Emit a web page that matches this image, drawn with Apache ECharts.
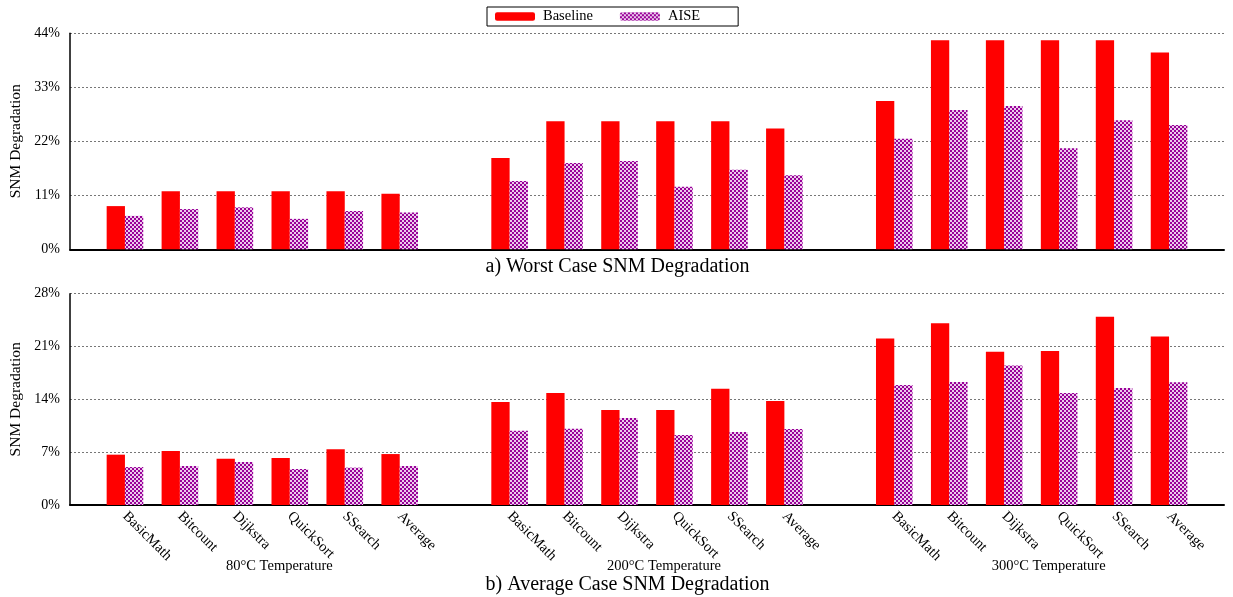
<!DOCTYPE html>
<html>
<head>
<meta charset="utf-8">
<script src="https://cdn.jsdelivr.net/npm/echarts@6/dist/echarts.min.js"></script>
<style>
  html, body { margin: 0; padding: 0; background: #fff; }
  #chart { width: 1233px; height: 597px; }
</style>
</head>
<body>
<div id="chart"></div>
<script>
// Benchmarks and temperature groups
const benchmarks = ['BasicMath', 'Bitcount', 'Dijkstra', 'QuickSort', 'SSearch', 'Average'];
const temperatures = ['80°C Temperature', '200°C Temperature', '300°C Temperature'];

// Worst case SNM degradation (%)
const worstBaseline80  = [8.8, 11.8, 11.8, 11.8, 11.8, 11.3];
const worstBaseline200 = [18.6, 26.1, 26.1, 26.1, 26.1, 24.6];
const worstBaseline300 = [30.2, 42.6, 42.6, 42.6, 42.6, 40.1];
const worstAISE80  = [6.8, 8.2, 8.55, 6.2, 7.8, 7.5];
const worstAISE200 = [13.9, 17.6, 18.0, 12.75, 16.2, 15.1];
const worstAISE300 = [22.5, 28.4, 29.2, 20.6, 26.3, 25.3];

// Average case SNM degradation (%)
const avgBaseline80  = [6.67, 7.15, 6.13, 6.23, 7.38, 6.75];
const avgBaseline200 = [13.64, 14.83, 12.58, 12.6, 15.4, 13.77];
const avgBaseline300 = [22.07, 24.07, 20.3, 20.4, 24.94, 22.34];
const avgAISE80  = [5.03, 5.17, 5.7, 4.77, 4.95, 5.17];
const avgAISE200 = [9.85, 10.1, 11.52, 9.27, 9.67, 10.07];
const avgAISE300 = [15.9, 16.3, 18.5, 14.83, 15.5, 16.25];

// Axis ticks
const worstTicks = [0, 11, 22, 33, 44];
const avgTicks = [0, 7, 14, 21, 28];

// Category layout: an empty slot before, between and after the three groups
function withGaps(a, b, c) {
  return [null].concat(a, [null], b, [null], c, [null]);
}
const categories = withGaps(benchmarks, benchmarks, benchmarks).map(v => v === null ? '' : v);

// Checkered fill for the AISE bars
const pat = document.createElement('canvas');
pat.width = 4; pat.height = 4;
const pctx = pat.getContext('2d');
pctx.fillStyle = '#eccbec';
pctx.fillRect(0, 0, 4, 4);
pctx.fillStyle = '#990099';
pctx.fillRect(0, 0, 2, 2);
pctx.fillRect(2, 2, 2, 2);
const aiseFill = { image: pat, repeat: 'repeat' };

const FONT = '"Liberation Serif", "Times New Roman", serif';
const BAR_W = 18.3;

const chart = echarts.init(document.getElementById('chart'), null, { renderer: 'canvas' });

function yAxisFor(gridIndex, ticks) {
  return {
    type: 'value', gridIndex: gridIndex,
    min: ticks[0], max: ticks[ticks.length - 1], interval: ticks[1] - ticks[0],
    name: 'SNM Degradation', nameLocation: 'middle', nameGap: 40, nameRotate: 90,
    nameTextStyle: { fontFamily: FONT, fontSize: 15.5, color: '#000' },
    axisLine: { show: true, lineStyle: { color: '#000', width: 1.5 } },
    axisTick: { show: false },
    axisLabel: { formatter: '{value}%', fontFamily: FONT, fontSize: 14, color: '#000', margin: 10 },
    splitLine: { show: true, lineStyle: { color: '#777', width: 1, type: [2, 2] } }
  };
}

function xAxisFor(gridIndex, showLabels) {
  return {
    type: 'category', gridIndex: gridIndex, data: categories, boundaryGap: false,
    axisLine: { show: true, lineStyle: { color: '#000', width: 2 } },
    axisTick: { show: false },
    splitLine: { show: false },
    axisLabel: {
      show: showLabels, interval: 0, rotate: -45, margin: 9,
      fontFamily: FONT, fontSize: 14.5, color: '#000'
    }
  };
}

function barSeries(name, gridIndex, data, color) {
  return {
    name: name, type: 'bar', xAxisIndex: gridIndex, yAxisIndex: gridIndex,
    data: data, barWidth: BAR_W, barGap: '0%',
    itemStyle: { color: color },
    emphasis: { disabled: true },
    silent: true, animation: false
  };
}

chart.setOption({
  animation: false,
  backgroundColor: '#fff',
  legend: {
    data: ['Baseline', 'AISE'],
    left: 487, top: 7,
    padding: [2, 38, 2, 8],
    itemWidth: 40, itemHeight: 8.5, itemGap: 27,
    borderColor: '#000', borderWidth: 1, borderRadius: 0,
    textStyle: { fontFamily: FONT, fontSize: 14.5, color: '#000', padding: [0, 0, 0, 3], lineHeight: 11 },
    selectedMode: false
  },
  grid: [
    { left: 70, right: 9, top: 33.3, height: 216, containLabel: false, outerBoundsMode: 'none' },
    { left: 70, right: 9, top: 293.7, height: 211.3, containLabel: false, outerBoundsMode: 'none' }
  ],
  xAxis: [xAxisFor(0, false), xAxisFor(1, true)],
  yAxis: [yAxisFor(0, worstTicks), yAxisFor(1, avgTicks)],
  series: [
    barSeries('Baseline', 0, withGaps(worstBaseline80, worstBaseline200, worstBaseline300), '#ff0000'),
    barSeries('AISE', 0, withGaps(worstAISE80, worstAISE200, worstAISE300), aiseFill),
    barSeries('Baseline', 1, withGaps(avgBaseline80, avgBaseline200, avgBaseline300), '#ff0000'),
    barSeries('AISE', 1, withGaps(avgAISE80, avgAISE200, avgAISE300), aiseFill)
  ]
});

// Group captions below the rotated benchmark names, centred on each group
const groupStarts = [1, 8, 15];
const captions = temperatures.map((t, i) => {
  const a = chart.convertToPixel({ xAxisIndex: 1 }, groupStarts[i] + 2);
  const b = chart.convertToPixel({ xAxisIndex: 1 }, groupStarts[i] + 3);
  return {
    type: 'text', x: (a + b) / 2 + 17, y: 566,
    style: { text: t, fontFamily: FONT, fontSize: 14.5, fill: '#000', align: 'center', verticalAlign: 'middle' }
  };
});

chart.setOption({
  graphic: captions.concat([
    { type: 'text', x: 617.5, y: 267,
      style: { text: 'a) Worst Case SNM Degradation', fontFamily: FONT, fontSize: 20, fill: '#000', align: 'center', verticalAlign: 'middle' } },
    { type: 'text', x: 627.5, y: 585,
      style: { text: 'b) Average Case SNM Degradation', fontFamily: FONT, fontSize: 20, fill: '#000', align: 'center', verticalAlign: 'middle' } }
  ])
});
</script>
</body>
</html>
